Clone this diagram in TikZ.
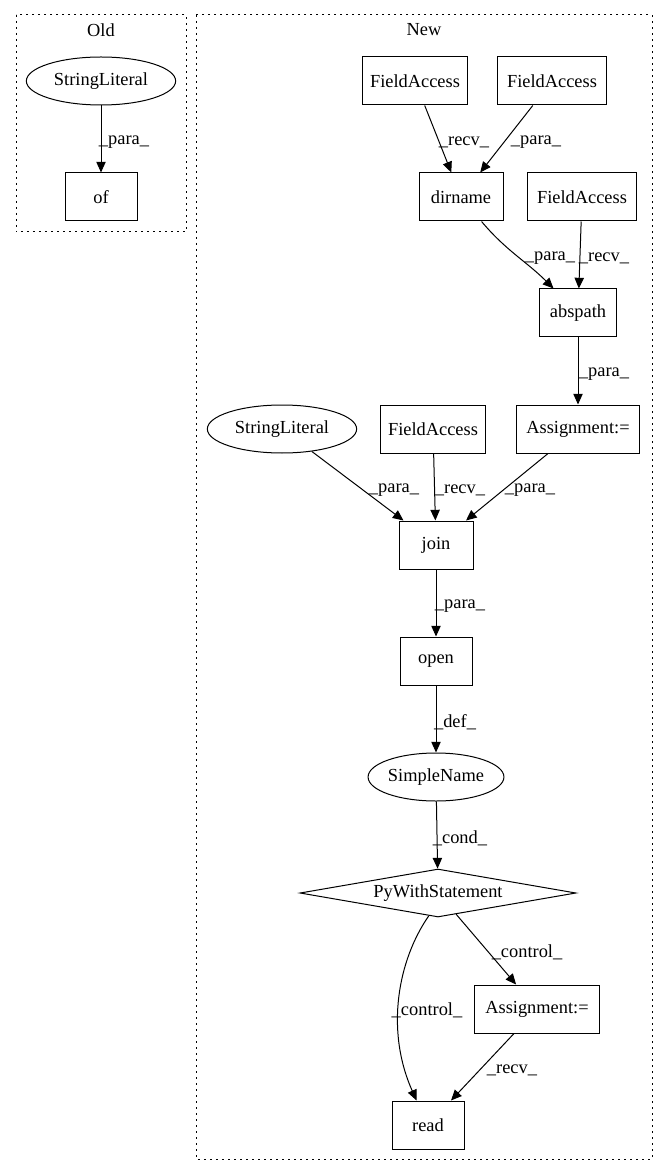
\documentclass[tikz,border=0pt]{standalone}
\usepackage{fontspec}
\setmainfont{Liberation Serif}
\usetikzlibrary{arrows.meta,shapes.geometric}
\begin{document}
\begin{tikzpicture}[x=0.75pt,y=-0.75pt,
  every node/.style={font=\fontsize{13.8}{15}\selectfont, inner sep=0pt},
  box/.style={draw, line width=0.75pt, minimum height=36pt},
  ell/.style={draw, ellipse, line width=0.75pt, minimum height=36pt},
  dia/.style={draw, diamond, aspect=5.75, line width=0.75pt, minimum width=207pt, minimum height=36pt},
  cluster/.style={draw, line width=0.75pt, dash pattern=on 1.2pt off 3.3pt},
  edge/.style={line width=0.75pt, -{Triangle[length=8pt,width=7pt]}}
]
\useasboundingbox (0,0) rectangle (668,1176);
% clusters
\draw[cluster] (16,15) rectangle (186,232);
\node (oldlab) at (101,30) {Old};
\draw[cluster] (196,15) rectangle (652,1159);
\node (newlab) at (424,30) {New};

% Old
\node[ell, minimum width=112pt] (sl1) at (101,81) {StringLiteral};
\node[box, minimum width=54pt] (of) at (101,197) {of};
\draw[edge] (sl1) -- (of);
\node (l0) at (124,142) {\_para\_};

% New
\node[box, minimum width=79pt] (fa1) at (415,81) {FieldAccess};
\node[box, minimum width=82pt] (fa2) at (552,81) {FieldAccess};
\node[box, minimum width=63pt] (dirname) at (461,197) {dirname};
\node[box, minimum width=82pt] (fa3) at (582,197) {FieldAccess};
\node[box, minimum width=58pt] (abspath) at (578,313) {abspath};
\node[box, minimum width=92pt] (as1) at (578,429) {Assignment:=};
\node[ell, minimum width=112pt] (sl2) at (282,429) {StringLiteral};
\node[box, minimum width=79pt] (fa4) at (433,429) {FieldAccess};
\node[box, minimum width=55.5pt] (join) at (436,545) {join};
\node[box, minimum width=54pt] (open) at (436,661) {open};
\node[ell, minimum width=91.5pt] (sn) at (436,777) {SimpleName};
\node[dia] (pw) at (438,893) {PyWithStatement};
\node[box, minimum width=94pt] (as2) at (537,1009) {Assignment:=};
\node[box, minimum width=54pt] (read) at (428,1125) {read};

\draw[edge] (fa1) -- (dirname);
\node (l1) at (464,142) {\_recv\_};
\draw[edge] (fa2) -- (dirname);
\node (l2) at (536,142) {\_para\_};
\draw[edge] (dirname) to[out=-50,in=135] (abspath);
\node (l3) at (550,258) {\_para\_};
\draw[edge] (fa3) -- (abspath);
\node (l4) at (604,258) {\_recv\_};
\draw[edge] (abspath) -- (as1);
\node (l5) at (604,374) {\_para\_};
\draw[edge] (sl2) -- (join);
\node (l6) at (394,490) {\_para\_};
\draw[edge] (fa4) -- (join);
\node (l7) at (460,490) {\_recv\_};
\draw[edge] (as1) -- (join);
\node (l8) at (530,490) {\_para\_};
\draw[edge] (join) -- (open);
\node (l9) at (460,606) {\_para\_};
\draw[edge] (open) -- (sn);
\node (l10) at (455,722) {\_def\_};
\draw[edge] (sn) -- (pw);
\node (l11) at (460,838) {\_cond\_};
\draw[edge] (pw) -- (as2);
\node (l12) at (527,952) {\_control\_};
\coordinate (c1) at (398,960);
\coordinate (c2) at (385,1030);
\draw[edge] (pw.-112) .. controls (c1) and (c2) .. (read.115);
\node (l13) at (427,1010) {\_control\_};
\draw[edge] (as2) -- (read);
\node (l14) at (512,1070) {\_recv\_};
\end{tikzpicture}
\end{document}
